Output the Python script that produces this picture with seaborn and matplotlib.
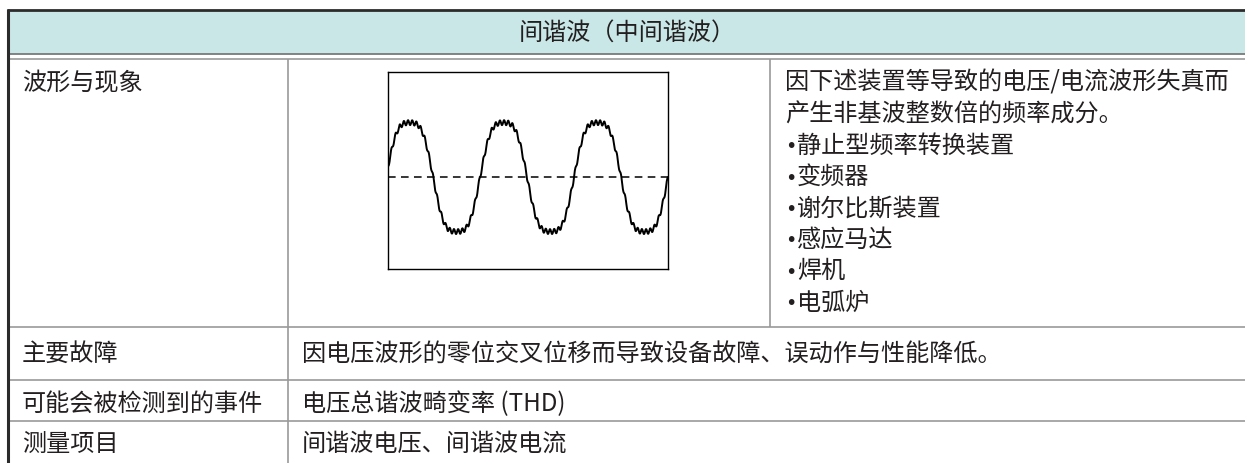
import numpy as np
import pandas as pd
import matplotlib
matplotlib.use("Agg")
import matplotlib.pyplot as plt
from matplotlib.patches import Rectangle
import seaborn as sns

sns.set_theme(style="white")
plt.rcParams['font.family'] = ['Noto Sans CJK SC', 'DejaVu Sans']

# ---------------- data ----------------
title = "间谐波（中间谐波）"
row_labels = ["波形与现象", "主要故障", "可能会被检测到的事件", "测量项目"]
description_lines = [
    "因下述装置等导致的电压/电流波形失真而",
    "产生非基波整数倍的频率成分。",
]
bullet_items = [
    "静止型频率转换装置",
    "变频器",
    "谢尔比斯装置",
    "感应马达",
    "焊机",
    "电弧炉",
]
row_values = [
    "因电压波形的零位交叉位移而导致设备故障、误动作与性能降低。",
    "电压总谐波畸变率 (THD)",
    "间谐波电压、间谐波电流",
]
# waveform: components as (frequency in multiples of the fundamental,
# amplitude relative to the fundamental), 3 cycles shown
wave_cycles = [0.02, 3.0]
wave_component_freq = [1.0, 3.0, 22.5]
wave_component_amp = [1.1, 0.11, 0.045]

# ---------------- figure ----------------
W, H = 1245, 464
fig = plt.figure(figsize=(W / 100, H / 100), dpi=100)
ax = fig.add_axes([0, 0, 1, 1])
ax.set_xlim(0, W)
ax.set_ylim(H, 0)
ax.axis("off")

txt = "#231f20"
grey = "#9a9a9a"
dark = "#2b2b2b"
fs = 17.4

# header
ax.add_patch(Rectangle((8, 11), W - 8, 44, facecolor="#c9e7e6", edgecolor="none", zorder=1))
ax.text(627, 33, title, ha="center", va="center", fontsize=fs, color=txt, zorder=5)

# lines
def hline(y, x0, x1, c, lw):
    ax.plot([x0, x1], [y, y], color=c, lw=lw, solid_capstyle="butt", zorder=3)

def vline(x, y0, y1, c, lw):
    ax.plot([x, x], [y0, y1], color=c, lw=lw, solid_capstyle="butt", zorder=3)

hline(11, 7, W, dark, 2.0)
hline(55, 8, W, "#7a7a7a", 1.3)
hline(60, 8, W, grey, 1.2)
hline(328, 8, W, grey, 1.2)
hline(381, 8, W, grey, 1.2)
hline(422, 8, W, grey, 1.2)
vline(8, 10, H, dark, 2.2)
vline(288, 60, H, grey, 1.2)
vline(770, 60, 328, grey, 1.2)

# text cells
row_y = [83, 354, 404, 444]
for lab, y in zip(row_labels, row_y):
    ax.text(22, y, lab, ha="left", va="center", fontsize=fs, color=txt, zorder=5)
for val, y in zip(row_values, row_y[1:]):
    ax.text(302, y, val, ha="left", va="center", fontsize=fs, color=txt, zorder=5)
step = 31.4
for i, line in enumerate(description_lines):
    ax.text(785, 83 + step * i, line, ha="left", va="center", fontsize=fs, color=txt, zorder=5)
for j, item in enumerate(bullet_items):
    yy = 83 + step * (len(description_lines) + j)
    ax.text(785, yy + 1, "•", ha="left", va="center", fontsize=fs * 0.8, color=txt,
            family="DejaVu Sans", zorder=5)
    ax.text(797, yy, item, ha="left", va="center", fontsize=fs, color=txt, zorder=5)

# waveform
t = np.linspace(wave_cycles[0], wave_cycles[1], 2000)
y = np.zeros_like(t)
for f, a in zip(wave_component_freq, wave_component_amp):
    y += a * np.sin(2 * np.pi * f * t)
df = pd.DataFrame({"t": t, "v": y})

wx0, wx1, wy0, wy1 = 388, 668, 73, 270
wax = fig.add_axes([wx0 / W, 1 - wy1 / H, (wx1 - wx0) / W, (wy1 - wy0) / H])
sns.lineplot(data=df, x="t", y="v", ax=wax, color="black", linewidth=1.4, estimator=None)
wax.axhline(0, color="black", lw=1.1, ls=(0, (5, 3.5)))
wax.set_xlim(wave_cycles[0], wave_cycles[1])
wax.set_ylim(-1.67, 1.91)
wax.set_xticks([])
wax.set_yticks([])
wax.set_xlabel("")
wax.set_ylabel("")
wax.set_facecolor("white")
for s in wax.spines.values():
    s.set_visible(True)
    s.set_color("black")
    s.set_linewidth(1.0)

fig.savefig("out.png", dpi=100)
